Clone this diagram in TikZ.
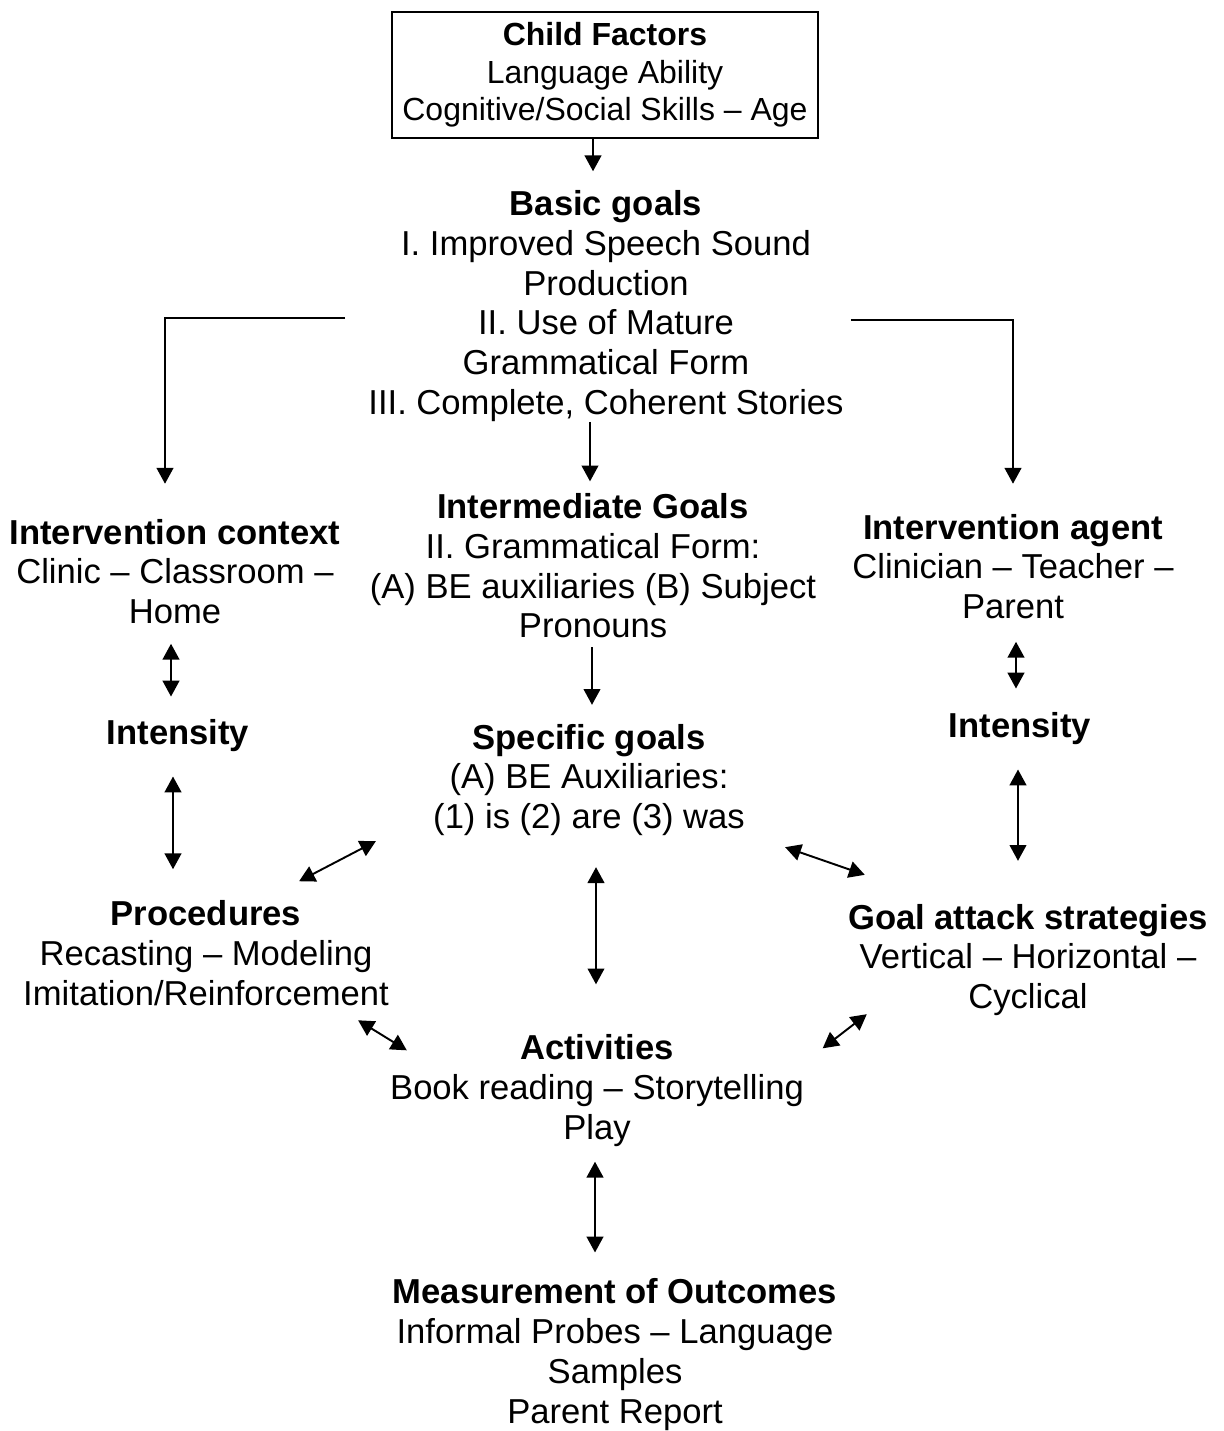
\documentclass[tikz,border=0pt]{standalone}
\usepackage{fontspec}
\setmainfont{Liberation Sans}
\usetikzlibrary{arrows.meta}

\begin{document}
\begin{tikzpicture}[
			x=0.02cm, y=-0.02cm,
			every node/.style={font=\fontsize{19.7}{22.6}\selectfont, align=center, inner sep=0pt},
			arr/.style={line width=1.1pt, -{Triangle[length=9pt,width=9.5pt]}},
			dbl/.style={line width=1.1pt, {Triangle[length=9pt,width=9.5pt]}-{Triangle[length=9pt,width=9.5pt]}}
			]
			\useasboundingbox (0,0) rectangle (1224,1431);
			
			% top box and goals
			\node[draw, line width=1.1pt, minimum width=8.52cm, minimum height=2.52cm,
				font=\fontsize{18.2}{21.4}\selectfont] (child) at (605,75)
				{\textbf{Child Factors}\\Language Ability\\Cognitive/Social Skills – Age};
			\node (basic) at (606,306)
				{\textbf{Basic goals}\\I. Improved Speech Sound\\Production\\II. Use of Mature\\Grammatical Form\\III. Complete, Coherent Stories};
			\node (inter) at (593,566)
				{\textbf{Intermediate Goals}\\II. Grammatical Form:\\(A) BE auxiliaries (B) Subject\\Pronouns};
			\node (spec) at (589,780)
				{\textbf{Specific goals}\\(A) BE Auxiliaries:\\(1) is (2) are (3) was};
			
			% left and right columns
			\node (ctx) at (175,571.5) {\textbf{Intervention context}\\Clinic – Classroom –\\Home};
			\node (intL) at (178,736) {\textbf{Intensity}};
			\node (proc) at (206,953) {\textbf{Procedures}\\Recasting – Modeling\\Imitation/Reinforcement};
			
			\node (agent) at (1013,566.5) {\textbf{Intervention agent}\\Clinician – Teacher –\\Parent};
			\node (intR) at (1020,729) {\textbf{Intensity}};
			\node (goal) at (1028,960) {\textbf{Goal attack strategies}\\Vertical – Horizontal –\\Cyclical};
			
			% bottom
			\node (act) at (597,1090.5) {\textbf{Activities}\\Book reading – Storytelling\\Play};
			\node (meas) at (615,1354.5)
				{\textbf{Measurement of Outcomes}\\Informal Probes – Language\\Samples\\Parent Report};
			
			% one-way arrows
			\draw[arr] ([shift={(-12,0)}]child.south) -- ([shift={(-13,-19)}]basic.north);
			\draw[arr] ([shift={(-23,12)}]basic.west) -| ([shift={(-10,-35)}]ctx.north);
			\draw[arr] ([shift={(7,14)}]basic.east) -| ([shift={(0,-30)}]agent.north);
			\draw[arr] ([shift={(-16,0)}]basic.south) -- ([shift={(-3,-12)}]inter.north);
			\draw[arr] ([shift={(-1,8.5)}]inter.south) -- ([shift={(3,-19)}]spec.north);
			
			% two-way arrows
			\draw[dbl] ([shift={(-4,19.5)}]ctx.south) -- ([shift={(-7,-23)}]intL.north);
			\draw[dbl] ([shift={(-5,24)}]intL.south) -- ([shift={(-33,-31)}]proc.north);
			\draw[dbl] ([shift={(3,22.5)}]agent.south) -- ([shift={(-4,-24)}]intR.north);
			\draw[dbl] ([shift={(-2,24)}]intR.south) -- ([shift={(-10,-43)}]goal.north);
			\draw[dbl] ([shift={(-90,-19)}]proc.north east) -- ([shift={(-57,5)}]spec.south west);
			\draw[dbl] ([shift={(40,11)}]spec.south east) -- ([shift={(17,-29)}]goal.north west);
			\draw[dbl] ([shift={(7,31)}]spec.south) -- ([shift={(-1,-50)}]act.north);
			\draw[dbl] ([shift={(-31,14.5)}]proc.south east) -- ([shift={(17,16)}]act.north west);
			\draw[dbl] ([shift={(19,-2)}]goal.south west) -- ([shift={(18.5,14)}]act.north east);
			\draw[dbl] ([shift={(-2,15)}]act.south) -- ([shift={(-20,-26)}]meas.north);
		\end{tikzpicture}
\end{document}
